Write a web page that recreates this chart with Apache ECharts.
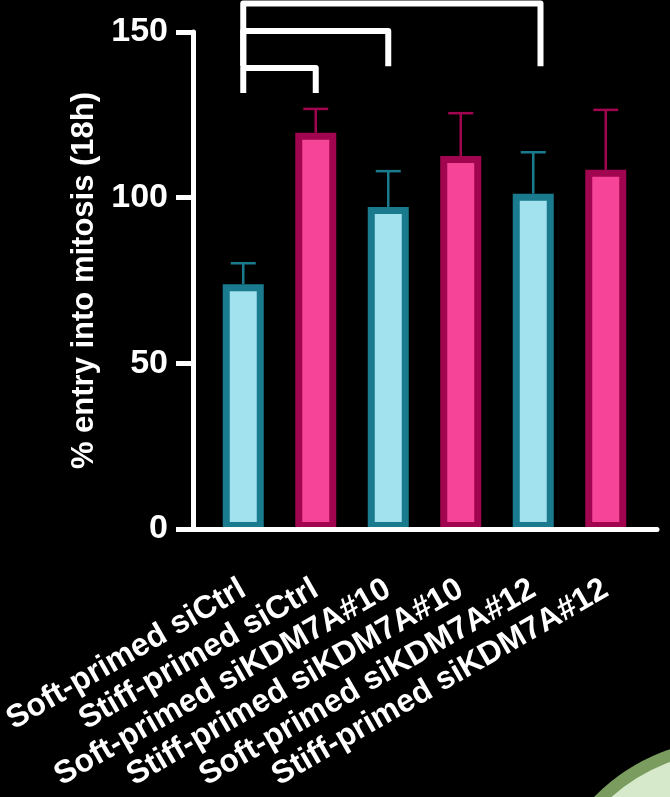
<!DOCTYPE html>
<html>
<head>
<meta charset="utf-8">
<style>
  html, body { margin: 0; padding: 0; background: #000; }
  #main { width: 670px; height: 797px; }
</style>
<script src="https://cdn.jsdelivr.net/npm/echarts@6/dist/echarts.min.js"></script>
</head>
<body>
<div id="main"></div>
<script>
// 数据
var categories = ['Soft-primed siCtrl', 'Stiff-primed siCtrl', 'Soft-primed siKDM7A#10',
    'Stiff-primed siKDM7A#10', 'Soft-primed siKDM7A#12', 'Stiff-primed siKDM7A#12'];
var means = [73.9, 119.6, 97.2, 112.6, 101.2, 108.4];
var errors = [6.3, 7.2, 10.8, 12.9, 12.5, 18.1];   // upper SD only

// significance brackets: from bar, to bar, height, foot
var bracketFrom = [0, 0, 0];
var bracketTo = [1, 2, 4.1];
var bracketLevel = [139.1, 150.3, 158.6];
var bracketFoot = [131.6, 139.7, 139.7];

var yTicks = [0, 50, 100, 150];

var softFill = '#a2e1ee', softLine = '#1a7b8f';
var stiffFill = '#f64599', stiffLine = '#a1054f';
var font = 'Liberation Sans, Arial, sans-serif';

var barData = means.map(function (v, i) {
    return {
        value: v,
        itemStyle: {
            color: i % 2 === 0 ? softFill : stiffFill,
            borderColor: i % 2 === 0 ? softLine : stiffLine
        }
    };
});
var errData = means.map(function (v, i) { return [i, v, errors[i]]; });
var bracketData = bracketFrom.map(function (f, i) {
    return [f, bracketTo[i], bracketLevel[i], bracketFoot[i]];
});

var myChart = echarts.init(document.getElementById('main'));

myChart.setOption({
    backgroundColor: '#000',
    animation: false,
    graphic: [{ // green corner decoration of the slide
        type: 'circle',
        z: -10,
        shape: { cx: 732, cy: 932, r: 187 },
        style: { fill: '#d6eacb', stroke: '#7a9c5f', lineWidth: 12 }
    }],
    grid: [
        { left: 207, right: 28, top: 32, bottom: 268, outerBoundsMode: 'none' },
        { left: 193, right: 13, top: 32, bottom: 268, outerBoundsMode: 'none' }  // only for the long x axis line
    ],
    xAxis: [{
        type: 'category',
        data: categories,
        axisLine: { show: false },
        axisTick: { alignWithLabel: true, length: 21, lineStyle: { color: '#fff', width: 5 } },
        axisLabel: {
            interval: 0,
            rotate: 30,
            margin: 58,
            color: '#fff',
            fontSize: 32,
            fontWeight: 'bold',
            fontFamily: font
        }
    }, {
        type: 'value',
        gridIndex: 1,
        z: 10,
        axisLine: { show: true, onZero: false, lineStyle: { color: '#fff', width: 5 } },
        axisTick: { show: false },
        axisLabel: { show: false },
        splitLine: { show: false }
    }],
    yAxis: [{
        type: 'value',
        min: 0,
        max: 150,
        interval: 50,
        offset: 14,
        name: '% entry into mitosis (18h)',
        nameLocation: 'middle',
        nameGap: 92,
        nameTextStyle: { color: '#fff', fontSize: 31, fontWeight: 'bold', fontFamily: font },
        axisLine: { show: true, lineStyle: { color: '#fff', width: 5 } },
        axisTick: { show: true, length: 17, lineStyle: { color: '#fff', width: 5 } },
        axisLabel: { margin: 25, color: '#fff', fontSize: 34, fontWeight: 'bold', fontFamily: font },
        splitLine: { show: false }
    }, {
        type: 'value',
        gridIndex: 1,
        min: 0,
        max: 1,
        show: false
    }],
    series: [{
        type: 'bar',
        data: barData,
        barWidth: 41,
        itemStyle: { borderWidth: 7 }
    }, {
        type: 'custom', // error bars
        data: errData,
        encode: { x: 0, y: 1 },
        z: 3,
        renderItem: function (params, api) {
            var i = api.value(0);
            var base = api.coord([i, api.value(1)]);
            var top = api.coord([i, api.value(1) + api.value(2)]);
            var c = i % 2 === 0 ? softLine : stiffLine;
            return {
                type: 'group',
                children: [{
                    type: 'line',
                    shape: { x1: base[0], y1: base[1], x2: top[0], y2: top[1] },
                    style: { stroke: c, lineWidth: 2.5 }
                }, {
                    type: 'line',
                    shape: { x1: top[0] - 12.5, y1: top[1], x2: top[0] + 12.5, y2: top[1] },
                    style: { stroke: c, lineWidth: 2.5 }
                }]
            };
        }
    }, {
        type: 'custom', // brackets
        data: bracketData,
        encode: { x: 0, y: 2 },
        clip: false,
        renderItem: function (params, api) {
            var bw = api.size([1, 0])[0];
            function px(v, y) {
                var p = api.coord([Math.floor(v), y]);
                return [p[0] + (v - Math.floor(v)) * bw, p[1]];
            }
            var a = px(api.value(0), api.value(3));
            var b = px(api.value(0), api.value(2));
            var c = px(api.value(1), api.value(2));
            var d = px(api.value(1), api.value(3));
            return {
                type: 'polyline',
                shape: { points: [a, b, c, d] },
                style: { stroke: '#fff', lineWidth: 6, fill: null, lineJoin: 'round' }
            };
        }
    }]
});
</script>
</body>
</html>
